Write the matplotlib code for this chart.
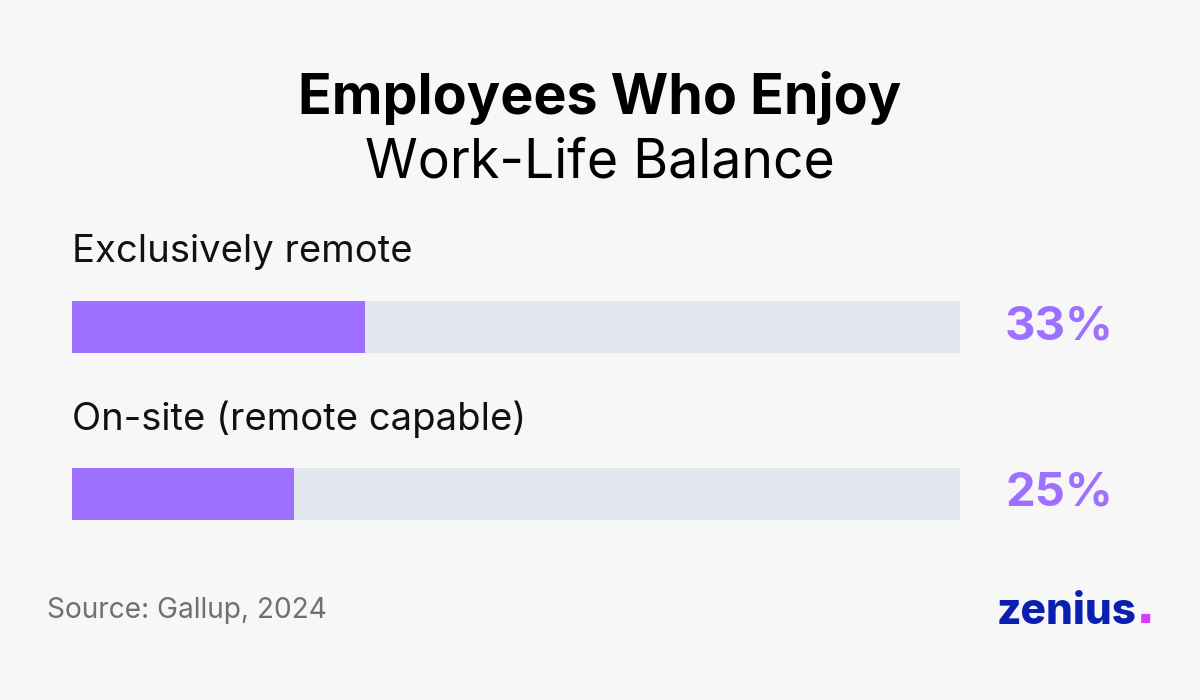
import matplotlib.pyplot as plt

categories = ["Exclusively remote", "On-site (remote capable)"]
values = [33, 25]
value_labels = ["33%", "25%"]

bg = "#f7f7f7"
purple = "#9e70ff"
track = "#e2e6ee"

plt.rcParams['font.family'] = ['Inter', 'DejaVu Sans']

fig = plt.figure(figsize=(12, 7), dpi=100, facecolor=bg)

# bars area in figure fractions (x 72..960 px, y 301..520 px)
ax = fig.add_axes([72 / 1200, 1 - 520 / 700, 888 / 1200, 219 / 700])
ax.set_facecolor(bg)
ypos = list(range(len(categories)))
h = 52 / 167
ax.barh(ypos, [100] * len(values), height=h, color=track, zorder=1)
ax.barh(ypos, values, height=h, color=purple, zorder=2)
ax.set_xlim(0, 100)
ax.set_ylim(len(categories) - 1 + h / 2, -h / 2)
ax.axis("off")

for y, cat, lab in zip(ypos, categories, value_labels):
    ax.text(0, y - 0.45, cat, fontsize=27.5, color="#111111", ha="left", va="center")
    ax.text(111.2, y, lab, fontsize=34, fontweight="bold", color=purple,
            ha="center", va="center")

fig.text(0.5, 1 - 98 / 700, "Employees Who Enjoy", fontsize=40, fontweight="bold",
         ha="center", va="center", color="#000000")
fig.text(0.5, 1 - 163 / 700, "Work-Life Balance", fontsize=38.5,
         ha="center", va="center", color="#000000")

fig.text(47 / 1200, 1 - 610 / 700, "Source: Gallup, 2024", fontsize=20.2,
         color="#707070", ha="left", va="center")

fig.text(997 / 1200, 1 - 612 / 700, "zenius", fontsize=30.5, fontweight="heavy",
         color="#0a1fb0", ha="left", va="center")
fig.text(1140 / 1200, 1 - 620 / 700, "\u25a0", fontsize=9, color="#d63cff",
         ha="left", va="center")

fig.savefig("out.png", dpi=100, facecolor=bg)
